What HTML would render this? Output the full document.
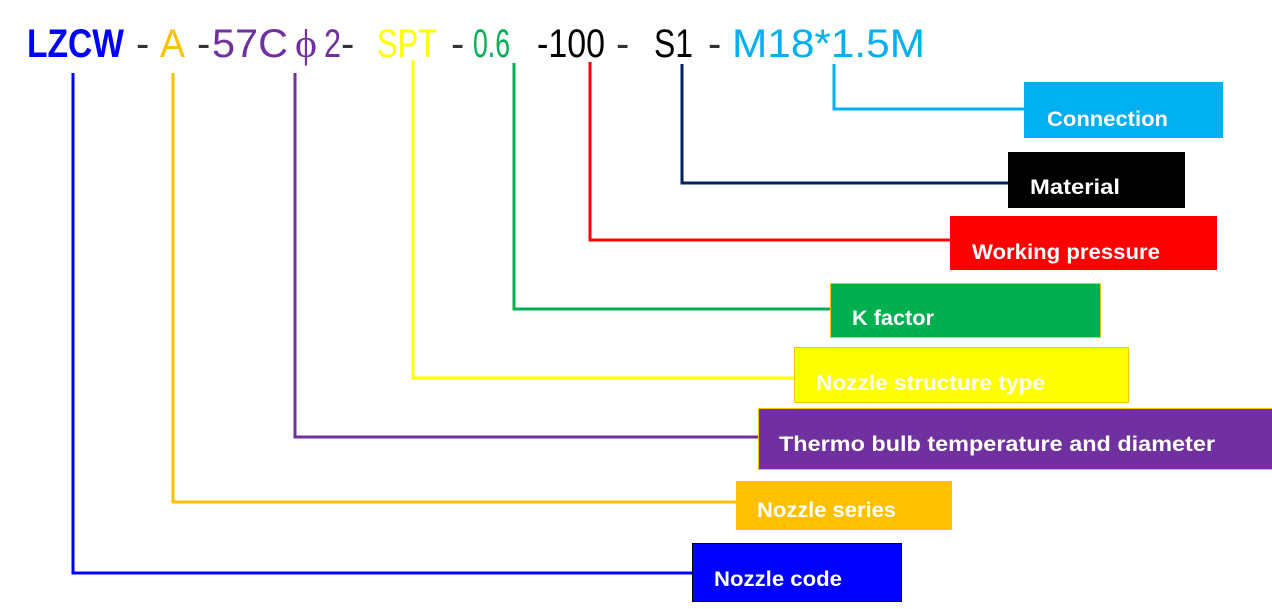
<!DOCTYPE html>
<html><head><meta charset="utf-8"><style>
html,body{margin:0;padding:0;background:#fff;width:1272px;height:609px;overflow:hidden}
svg{display:block}
.t{font-family:"Liberation Sans",sans-serif;font-size:40px}
.b{font-family:"Liberation Sans",sans-serif;font-weight:bold;font-size:21px;fill:#fff}
</style></head><body>
<svg width="1272" height="609" viewBox="0 0 1272 609" xmlns="http://www.w3.org/2000/svg">
<g class="t">
<text x="27" y="57" textLength="97" lengthAdjust="spacingAndGlyphs" fill="#0000ff" font-weight="bold">LZCW</text>
<text x="136" y="57" fill="#333">-</text>
<text x="160" y="57" textLength="25" lengthAdjust="spacingAndGlyphs" fill="#ffc000">A</text>
<text x="197" y="57" fill="#333">-</text>
<text x="212" y="57" textLength="76" lengthAdjust="spacingAndGlyphs" fill="#7030a0">57C</text>
<text x="295" y="57" textLength="22" lengthAdjust="spacingAndGlyphs" fill="#7030a0" font-family="Liberation Serif">ϕ</text>
<text x="324" y="57" textLength="17" lengthAdjust="spacingAndGlyphs" fill="#7030a0">2</text>
<text x="341" y="57" fill="#333">-</text>
<text x="377" y="57" textLength="60" lengthAdjust="spacingAndGlyphs" fill="#ffff00">SPT</text>
<text x="451" y="57" fill="#333">-</text>
<text x="473" y="57" textLength="37" lengthAdjust="spacingAndGlyphs" fill="#00b050">0.6</text>
<text x="537" y="57" textLength="68" lengthAdjust="spacingAndGlyphs" fill="#000">-100</text>
<text x="616" y="57" fill="#333">-</text>
<text x="654" y="57" textLength="39" lengthAdjust="spacingAndGlyphs" fill="#000">S1</text>
<text x="708" y="57" fill="#333">-</text>
<text x="732" y="57" textLength="193" lengthAdjust="spacingAndGlyphs" fill="#00b0f0">M18*1.5M</text>
</g>
<g fill="none" stroke-width="3">
<polyline points="73,73 73,573 694,573" stroke="#0000ff"/>
<polyline points="173,73 173,502 737,502" stroke="#ffc000"/>
<polyline points="295,73 295,437 760,437" stroke="#7030a0"/>
<polyline points="413,60 413,378 795,378" stroke="#ffff00"/>
<polyline points="514,63 514,309 831,309" stroke="#00b050"/>
<polyline points="590,62 590,240 951,240" stroke="#ff0000"/>
<polyline points="682,64 682,183 1009,183" stroke="#002060"/>
<polyline points="834,64 834,109 1025,109" stroke="#00b0f0"/>
</g>
<rect x="1024" y="82" width="199" height="56" fill="#00b0f0"/>
<text class="b" x="1047" y="126" textLength="121" lengthAdjust="spacingAndGlyphs">Connection</text>
<rect x="1008" y="152" width="177" height="56" fill="#000"/>
<text class="b" x="1030" y="194" textLength="90" lengthAdjust="spacingAndGlyphs">Material</text>
<rect x="950" y="216" width="267" height="54" fill="#ff0000"/>
<text class="b" x="972" y="259" textLength="188" lengthAdjust="spacingAndGlyphs">Working pressure</text>
<rect x="830.5" y="283.5" width="270" height="54" fill="#00b050" stroke="#ffc000"/>
<text class="b" x="852" y="325" textLength="82" lengthAdjust="spacingAndGlyphs">K factor</text>
<rect x="794.5" y="347.5" width="334" height="55" fill="#ffff00" stroke="#ffc000"/>
<text class="b" x="816" y="390" textLength="229" lengthAdjust="spacingAndGlyphs">Nozzle structure type</text>
<rect x="758.5" y="408.5" width="520" height="61" fill="#7030a0" stroke="#ffc000"/>
<text class="b" x="779" y="451" textLength="436" lengthAdjust="spacingAndGlyphs">Thermo bulb temperature and diameter</text>
<rect x="736" y="481" width="216" height="49" fill="#ffc000"/>
<text class="b" x="757" y="517" textLength="139" lengthAdjust="spacingAndGlyphs">Nozzle series</text>
<rect x="692.5" y="543.5" width="209" height="58" fill="#0000ff" stroke="#000"/>
<text class="b" x="714" y="586" textLength="128" lengthAdjust="spacingAndGlyphs">Nozzle code</text>
</svg>
</body></html>
